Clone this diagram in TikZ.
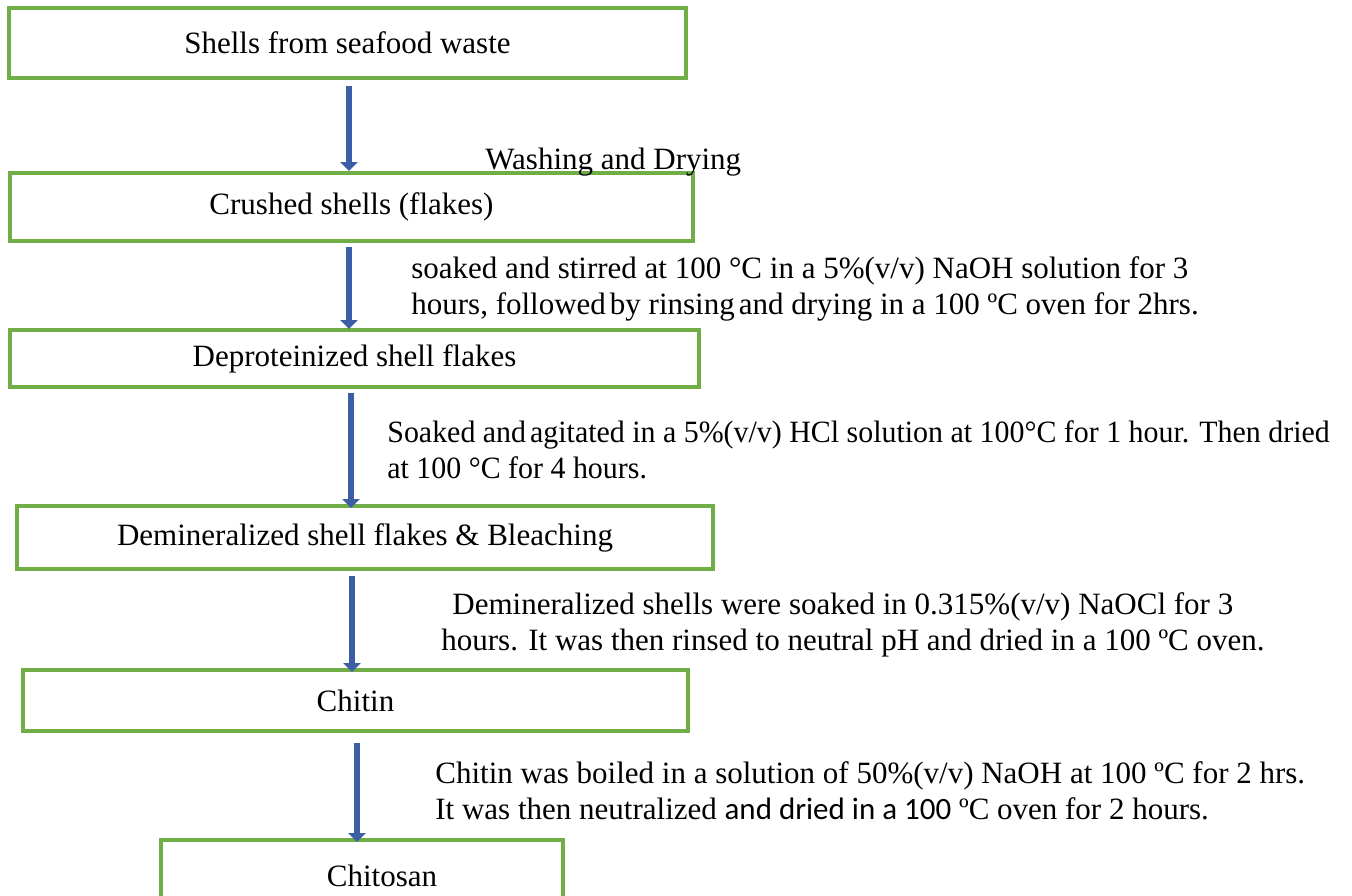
\documentclass[tikz,border=0pt]{standalone}
\usepackage{fontspec}
\setmainfont{Liberation Serif}
\newfontfamily\calibri{Carlito}
\newfontfamily\narrowserif[FakeStretch=0.965]{Liberation Serif}
\usetikzlibrary{arrows.meta}
\definecolor{boxgreen}{RGB}{112,173,71}
\definecolor{arrowblue}{RGB}{59,94,164}
\tikzset{
  stepbox/.style={draw=boxgreen, line width=2pt, inner sep=0pt, fill=white},
  flow/.style={draw=arrowblue, line width=2.6pt, -{Triangle[width=8.5pt,length=4.5pt]}},
  note/.style={anchor=west, align=left, inner sep=0pt}
}
\begin{document}
\begin{tikzpicture}[x=0.5pt,y=-0.5pt,line join=miter,
  every node/.style={font=\fontsize{15.5}{18}\selectfont}]
  \useasboundingbox (0,0) rectangle (1352,895);
  \clip (0,0) rectangle (1352,895);
  % process steps
  \node[stepbox, minimum width=338.5pt, minimum height=35pt] (s1) at (347.5,43) {Shells from seafood waste};
  \node[stepbox, minimum width=341.5pt, minimum height=34pt] (s2) at (351.5,207) {Crushed shells (flakes)};
  \node[stepbox, minimum width=344.5pt, minimum height=28.5pt] (s3) at (354.5,358.5) {Deproteinized shell flakes};
  \node[stepbox, minimum width=348pt, minimum height=31.5pt] (s4) at (365,537.5) {Demineralized shell flakes \& Bleaching};
  \node[stepbox, minimum width=332.5pt, minimum height=30.5pt] (s5) at (355.5,700.5) {Chitin};
  \node[stepbox, minimum width=201pt, minimum height=36pt] (s6) at (362,876) {\hspace*{20pt}Chitosan};
  % arrows
  \draw[flow] ([yshift=-3pt]s1.south -| 349,0) -- (s2.north -| 349,0);
  \draw[flow] ([yshift=-2pt]s2.south -| 349,0) -- ([yshift=-0.5pt]s3.north -| 349,0);
  \draw[flow] ([yshift=-2pt]s3.south -| 351,0) -- ([yshift=-2pt]s4.north -| 351,0);
  \draw[flow] ([yshift=-2.5pt]s4.south -| 352,0) -- ([yshift=-2pt]s5.north -| 352,0);
  \draw[flow] ([yshift=-5pt]s5.south -| 357,0) -- ([yshift=-2pt]s6.north -| 357,0);
  % step notes
  \node[note] (n1) at (485,162) {Washing and Drying};
  \node[note] (n2) at (411,289) {soaked and stirred at 100 °C in a 5\%(v/v) NaOH solution for 3\\
    hours, followed\hspace{2pt}by rinsing\hspace{2pt}and drying in a 100 ºC oven for 2hrs.};
  \node[note] (n3) at (387,450) {\narrowserif Soaked and\hspace{2pt}agitated in a 5\%(v/v) HCl solution at 100°C for 1 hour. Then dried\\
    \narrowserif at 100 °C for 4 hours.};
  \node[note] (n4) at (441,625) {\hspace*{5.5pt}Demineralized shells were soaked in 0.315\%(v/v) NaOCl for 3\\
    hours. It was then rinsed to neutral pH and dried in a 100 ºC oven.};
  \node[note] (n5) at (435,791) {Chitin was boiled in a solution of 50\%(v/v) NaOH at 100 ºC for 2 hrs.\\
    It was then neutralized {\calibri and dried in a 100} ºC oven for 2 hours.};
\end{tikzpicture}
\end{document}
